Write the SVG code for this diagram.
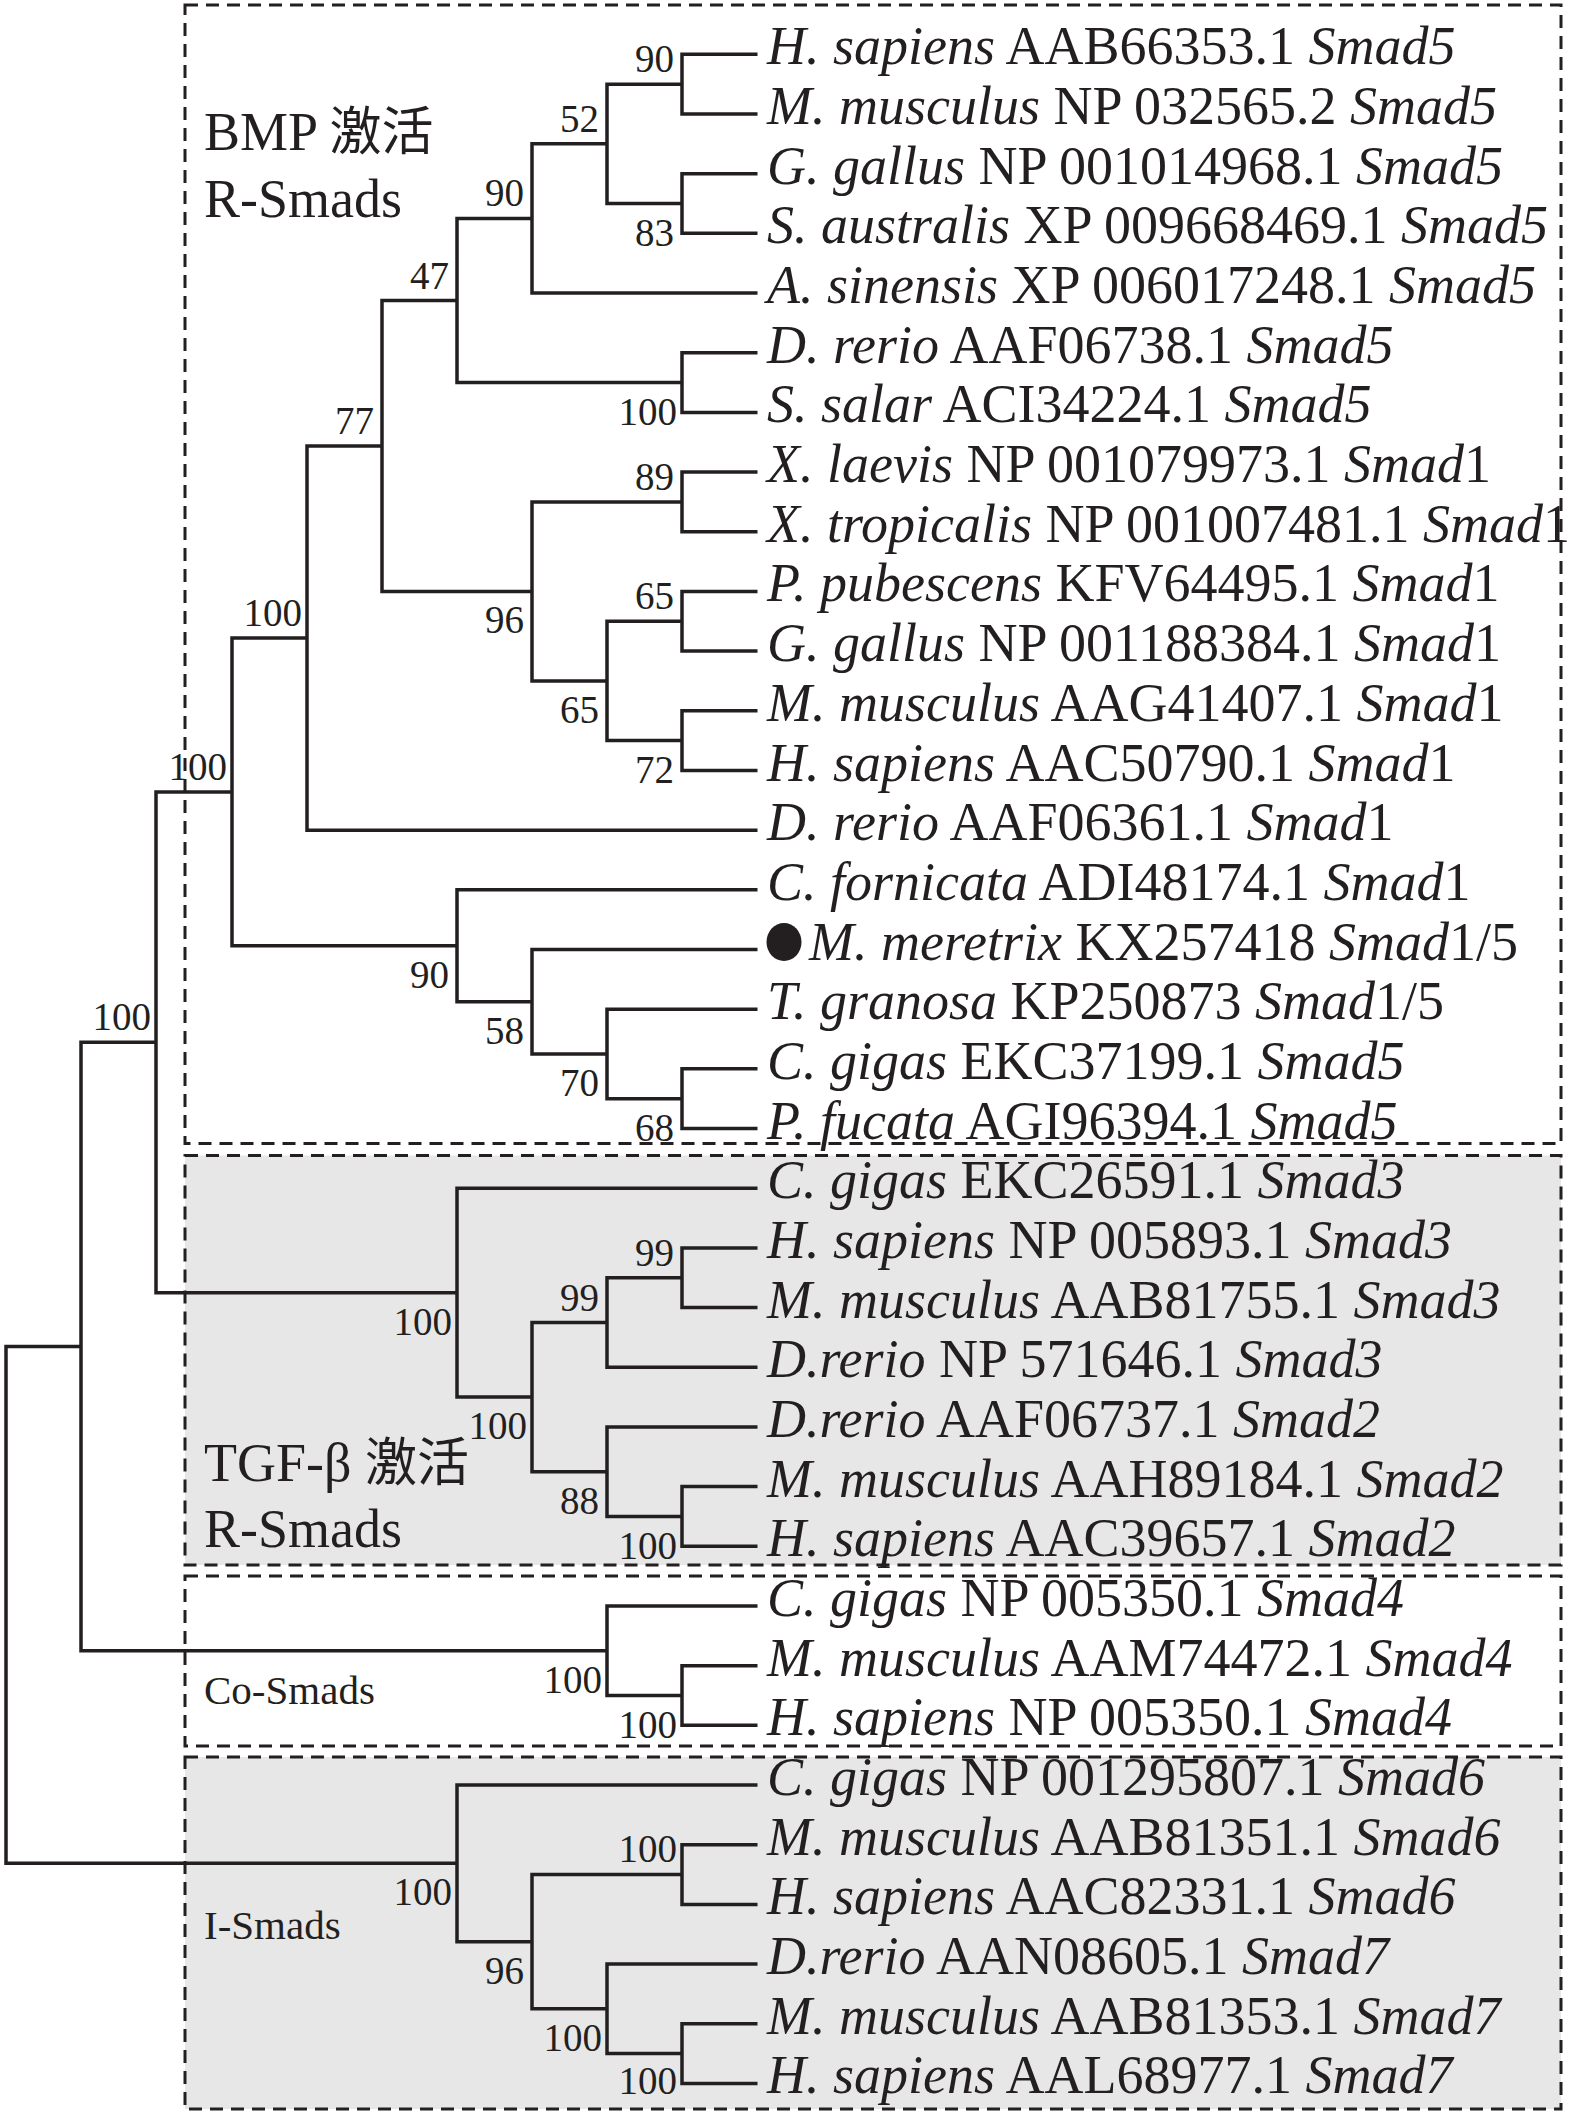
<svg xmlns="http://www.w3.org/2000/svg" width="1575" height="2116" viewBox="0 0 1575 2116">
<style>
.bg{fill:#ffffff}
.shade{fill:#e7e7e8;stroke:none}
.box{fill:none;stroke:#231f20;stroke-width:3;stroke-dasharray:13 8}
.br{fill:none;stroke:#231f20;stroke-width:3.5;stroke-linejoin:miter;stroke-linecap:butt}
.leaf{font-family:"Liberation Serif","Times New Roman",serif;font-size:54px;fill:#231f20}
.i{font-style:italic}
.lbl{font-family:"Liberation Serif","Times New Roman",serif;font-size:39px;fill:#231f20;text-anchor:end}
.grp{font-family:"Liberation Serif","Noto Sans CJK SC",serif;font-size:54px;fill:#231f20}
.grp2{font-family:"Liberation Serif",serif;font-size:41px;fill:#231f20}
</style>
<rect class="bg" x="0" y="0" width="1575" height="2116"/>
<g id="groups">
<g id="box-bmp"><rect class="box" x="185" y="5" width="1376" height="1138.5"/>
<text class="grp" x="204" y="150">BMP <tspan font-family="'Noto Sans CJK SC',sans-serif" font-size="52">激活</tspan></text>
<text class="grp" x="204" y="217">R-Smads</text></g>
<g id="box-tgf"><rect class="shade" x="185" y="1155.5" width="1376" height="409.5"/><rect class="box" x="185" y="1155.5" width="1376" height="409.5"/>
<text class="grp" x="204" y="1481">TGF-β <tspan font-family="'Noto Sans CJK SC',sans-serif" font-size="52">激活</tspan></text>
<text class="grp" x="204" y="1547">R-Smads</text></g>
<g id="box-co"><rect class="box" x="185" y="1576" width="1376" height="170"/>
<text class="grp2" x="204" y="1704">Co-Smads</text></g>
<g id="box-i"><rect class="shade" x="185" y="1757" width="1376" height="352"/><rect class="box" x="185" y="1757" width="1376" height="352"/>
<text class="grp2" x="204" y="1939">I-Smads</text></g>
</g>
<g id="connectors">
<path class="br" d="M757.5,54.3 H682 V113.98 H757.5"/>
<path class="br" d="M757.5,173.66 H682 V233.34 H757.5"/>
<path class="br" d="M682,84.14 H607 V203.5 H682"/>
<path class="br" d="M607,143.82 H532 V293.02 H757.5"/>
<path class="br" d="M757.5,352.7 H682 V412.38 H757.5"/>
<path class="br" d="M532,218.42 H457 V382.54 H682"/>
<path class="br" d="M757.5,472.06 H682 V531.74 H757.5"/>
<path class="br" d="M757.5,591.42 H682 V651.1 H757.5"/>
<path class="br" d="M757.5,710.78 H682 V770.46 H757.5"/>
<path class="br" d="M682,621.26 H607 V740.62 H682"/>
<path class="br" d="M682,501.9 H532 V680.94 H607"/>
<path class="br" d="M457,300.48 H382 V591.42 H532"/>
<path class="br" d="M382,445.95 H307 V830.14 H757.5"/>
<path class="br" d="M757.5,1068.86 H682 V1128.54 H757.5"/>
<path class="br" d="M757.5,1009.18 H607 V1098.7 H682"/>
<path class="br" d="M757.5,949.5 H532 V1053.94 H607"/>
<path class="br" d="M757.5,889.82 H457 V1001.72 H532"/>
<path class="br" d="M307,638.05 H232 V945.77 H457"/>
<path class="br" d="M757.5,1247.9 H682 V1307.58 H757.5"/>
<path class="br" d="M682,1277.74 H607 V1367.26 H757.5"/>
<path class="br" d="M757.5,1486.62 H682 V1546.3 H757.5"/>
<path class="br" d="M757.5,1426.94 H607 V1516.46 H682"/>
<path class="br" d="M607,1322.5 H532 V1471.7 H607"/>
<path class="br" d="M757.5,1188.22 H457 V1397.1 H532"/>
<path class="br" d="M232,791.91 H156 V1292.66 H457"/>
<path class="br" d="M757.5,1665.66 H682 V1725.34 H757.5"/>
<path class="br" d="M757.5,1605.98 H607 V1695.5 H682"/>
<path class="br" d="M156,1042.29 H81 V1650.74 H607"/>
<path class="br" d="M757.5,1844.7 H682 V1904.38 H757.5"/>
<path class="br" d="M757.5,2023.74 H682 V2083.42 H757.5"/>
<path class="br" d="M757.5,1964.06 H607 V2053.58 H682"/>
<path class="br" d="M682,1874.54 H532 V2008.82 H607"/>
<path class="br" d="M757.5,1785.02 H457 V1941.68 H532"/>
<path class="br" d="M81,1346.5 H6 V1863.35 H457"/>
</g>
<g id="support-labels">
<g id="n01"><text class="lbl" x="674" y="72">90</text></g>
<g id="n23"><text class="lbl" x="674" y="245.5">83</text></g>
<g id="n0123"><text class="lbl" x="599" y="132">52</text></g>
<g id="n0-4"><text class="lbl" x="524" y="206">90</text></g>
<g id="n56"><text class="lbl" x="677" y="424.5">100</text></g>
<g id="n0-6"><text class="lbl" x="449" y="288.5">47</text></g>
<g id="n78"><text class="lbl" x="674" y="490">89</text></g>
<g id="n9-10"><text class="lbl" x="674" y="609">65</text></g>
<g id="n11-12"><text class="lbl" x="674" y="782.6">72</text></g>
<g id="n9-12"><text class="lbl" x="599" y="723">65</text></g>
<g id="n7-12"><text class="lbl" x="524" y="633.4">96</text></g>
<g id="n0-12"><text class="lbl" x="374" y="434">77</text></g>
<g id="n0-13"><text class="lbl" x="302" y="626">100</text></g>
<g id="n14-18"><text class="lbl" x="449" y="987.8">90</text></g>
<g id="n15-18"><text class="lbl" x="524" y="1043.7">58</text></g>
<g id="n16-18"><text class="lbl" x="599" y="1096">70</text></g>
<g id="n17-18"><text class="lbl" x="674" y="1140.7">68</text></g>
<g id="n0-18"><text class="lbl" x="227" y="780">100</text></g>
<g id="n0-25"><text class="lbl" x="151" y="1030">100</text></g>
<g id="n19-25"><text class="lbl" x="452" y="1334.7">100</text></g>
<g id="n20-25"><text class="lbl" x="527" y="1439">100</text></g>
<g id="n20-22"><text class="lbl" x="599" y="1310.5">99</text></g>
<g id="n20-21"><text class="lbl" x="674" y="1265.7">99</text></g>
<g id="n23-25"><text class="lbl" x="599" y="1513.7">88</text></g>
<g id="n24-25"><text class="lbl" x="677" y="1558.5">100</text></g>
<g id="n26-28"><text class="lbl" x="602" y="1692.7">100</text></g>
<g id="n27-28"><text class="lbl" x="677" y="1737.5">100</text></g>
<g id="n29-34"><text class="lbl" x="452" y="1905.4">100</text></g>
<g id="n30-31"><text class="lbl" x="677" y="1861.5">100</text></g>
<g id="n30-34"><text class="lbl" x="524" y="1983.7">96</text></g>
<g id="n32-34"><text class="lbl" x="602" y="2050.8">100</text></g>
<g id="n33-34"><text class="lbl" x="677" y="2094">100</text></g>
</g>
<g id="leaves">
<g id="leaf0"><text class="leaf" x="767" y="64.3"><tspan class="i">H. sapiens</tspan> AAB66353.1 <tspan class="i">Smad5</tspan></text></g>
<g id="leaf1"><text class="leaf" x="767" y="124"><tspan class="i">M. musculus</tspan> NP 032565.2 <tspan class="i">Smad5</tspan></text></g>
<g id="leaf2"><text class="leaf" x="767" y="183.7"><tspan class="i">G. gallus</tspan> NP 001014968.1 <tspan class="i">Smad5</tspan></text></g>
<g id="leaf3"><text class="leaf" x="767" y="243.3"><tspan class="i">S. australis</tspan> XP 009668469.1 <tspan class="i">Smad5</tspan></text></g>
<g id="leaf4"><text class="leaf" x="767" y="303"><tspan class="i">A. sinensis</tspan> XP 006017248.1 <tspan class="i">Smad5</tspan></text></g>
<g id="leaf5"><text class="leaf" x="767" y="362.7"><tspan class="i">D. rerio</tspan> AAF06738.1 <tspan class="i">Smad5</tspan></text></g>
<g id="leaf6"><text class="leaf" x="767" y="422.4"><tspan class="i">S. salar</tspan> ACI34224.1 <tspan class="i">Smad5</tspan></text></g>
<g id="leaf7"><text class="leaf" x="767" y="482.1"><tspan class="i">X. laevis</tspan> NP 001079973.1 <tspan class="i">Smad</tspan>1</text></g>
<g id="leaf8"><text class="leaf" x="767" y="541.7"><tspan class="i">X. tropicalis</tspan> NP 001007481.1 <tspan class="i">Smad</tspan>1</text></g>
<g id="leaf9"><text class="leaf" x="767" y="601.4"><tspan class="i">P. pubescens</tspan> KFV64495.1 <tspan class="i">Smad</tspan>1</text></g>
<g id="leaf10"><text class="leaf" x="767" y="661.1"><tspan class="i">G. gallus</tspan> NP 001188384.1 <tspan class="i">Smad</tspan>1</text></g>
<g id="leaf11"><text class="leaf" x="767" y="720.8"><tspan class="i">M. musculus</tspan> AAG41407.1 <tspan class="i">Smad</tspan>1</text></g>
<g id="leaf12"><text class="leaf" x="767" y="780.5"><tspan class="i">H. sapiens</tspan> AAC50790.1 <tspan class="i">Smad</tspan>1</text></g>
<g id="leaf13"><text class="leaf" x="767" y="840.1"><tspan class="i">D. rerio</tspan> AAF06361.1 <tspan class="i">Smad</tspan>1</text></g>
<g id="leaf14"><text class="leaf" x="767" y="899.8"><tspan class="i">C. fornicata</tspan> ADI48174.1 <tspan class="i">Smad</tspan>1</text></g>
<g id="leaf15"><ellipse cx="784" cy="942" rx="17.5" ry="19" fill="#231f20"/><text class="leaf" x="809" y="959.5"><tspan class="i">M. meretrix</tspan> KX257418 <tspan class="i">Smad</tspan>1/5</text></g>
<g id="leaf16"><text class="leaf" x="767" y="1019.2"><tspan class="i">T. granosa</tspan> KP250873 <tspan class="i">Smad</tspan>1/5</text></g>
<g id="leaf17"><text class="leaf" x="767" y="1078.9"><tspan class="i">C. gigas</tspan> EKC37199.1 <tspan class="i">Smad5</tspan></text></g>
<g id="leaf18"><text class="leaf" x="767" y="1138.5"><tspan class="i">P. fucata</tspan> AGI96394.1 <tspan class="i">Smad5</tspan></text></g>
<g id="leaf19"><text class="leaf" x="767" y="1198.2"><tspan class="i">C. gigas</tspan> EKC26591.1 <tspan class="i">Smad3</tspan></text></g>
<g id="leaf20"><text class="leaf" x="767" y="1257.9"><tspan class="i">H. sapiens</tspan> NP 005893.1 <tspan class="i">Smad3</tspan></text></g>
<g id="leaf21"><text class="leaf" x="767" y="1317.6"><tspan class="i">M. musculus</tspan> AAB81755.1 <tspan class="i">Smad3</tspan></text></g>
<g id="leaf22"><text class="leaf" x="767" y="1377.3"><tspan class="i">D.rerio</tspan> NP 571646.1 <tspan class="i">Smad3</tspan></text></g>
<g id="leaf23"><text class="leaf" x="767" y="1436.9"><tspan class="i">D.rerio</tspan> AAF06737.1 <tspan class="i">Smad2</tspan></text></g>
<g id="leaf24"><text class="leaf" x="767" y="1496.6"><tspan class="i">M. musculus</tspan> AAH89184.1 <tspan class="i">Smad2</tspan></text></g>
<g id="leaf25"><text class="leaf" x="767" y="1556.3"><tspan class="i">H. sapiens</tspan> AAC39657.1 <tspan class="i">Smad2</tspan></text></g>
<g id="leaf26"><text class="leaf" x="767" y="1616"><tspan class="i">C. gigas</tspan> NP 005350.1 <tspan class="i">Smad4</tspan></text></g>
<g id="leaf27"><text class="leaf" x="767" y="1675.7"><tspan class="i">M. musculus</tspan> AAM74472.1 <tspan class="i">Smad4</tspan></text></g>
<g id="leaf28"><text class="leaf" x="767" y="1735.3"><tspan class="i">H. sapiens</tspan> NP 005350.1 <tspan class="i">Smad4</tspan></text></g>
<g id="leaf29"><text class="leaf" x="767" y="1795"><tspan class="i">C. gigas</tspan> NP 001295807.1 <tspan class="i">Smad6</tspan></text></g>
<g id="leaf30"><text class="leaf" x="767" y="1854.7"><tspan class="i">M. musculus</tspan> AAB81351.1 <tspan class="i">Smad6</tspan></text></g>
<g id="leaf31"><text class="leaf" x="767" y="1914.4"><tspan class="i">H. sapiens</tspan> AAC82331.1 <tspan class="i">Smad6</tspan></text></g>
<g id="leaf32"><text class="leaf" x="767" y="1974.1"><tspan class="i">D.rerio</tspan> AAN08605.1 <tspan class="i">Smad7</tspan></text></g>
<g id="leaf33"><text class="leaf" x="767" y="2033.7"><tspan class="i">M. musculus</tspan> AAB81353.1 <tspan class="i">Smad7</tspan></text></g>
<g id="leaf34"><text class="leaf" x="767" y="2093.4"><tspan class="i">H. sapiens</tspan> AAL68977.1 <tspan class="i">Smad7</tspan></text></g>
</g>
</svg>
